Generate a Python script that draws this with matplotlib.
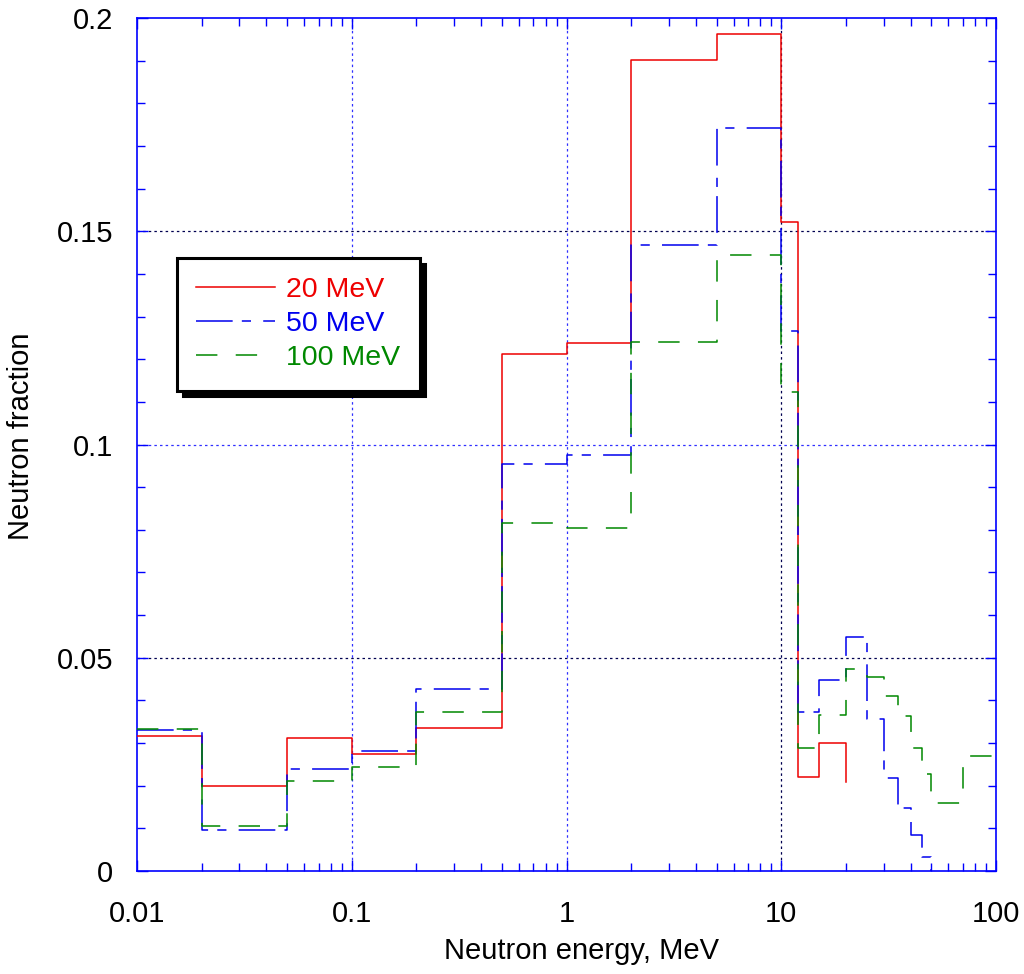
import matplotlib
matplotlib.use("Agg")
import matplotlib.pyplot as plt
from matplotlib.ticker import FixedLocator, NullFormatter

plt.rcParams['font.family'] = ['Liberation Sans', 'DejaVu Sans']

# bin lower edges (MeV) and neutron fractions, drawn as post-steps
e_20 = [0.01, 0.02, 0.05, 0.1, 0.2, 0.5, 1, 2, 5, 10, 12, 15, 20]
f_20 = [0.0316, 0.0199, 0.0313, 0.0274, 0.0335, 0.1213, 0.1237, 0.1902,
        0.1962, 0.1522, 0.0220, 0.0301, 0.0208]

e_50 = [0.01, 0.02, 0.05, 0.1, 0.2, 0.5, 1, 2, 5, 10, 12, 15, 20, 25, 30,
        35, 40, 45, 50]
f_50 = [0.0331, 0.0097, 0.0240, 0.0281, 0.0427, 0.0954, 0.0976, 0.1468,
        0.1743, 0.1267, 0.0374, 0.0449, 0.0548, 0.0357, 0.0219, 0.0148,
        0.0084, 0.0034, 0.0]

e_100 = [0.01, 0.02, 0.05, 0.1, 0.2, 0.5, 1, 2, 5, 10, 12, 15, 20, 25, 30,
         35, 40, 45, 50, 70, 100]
f_100 = [0.0334, 0.0105, 0.0212, 0.0245, 0.0374, 0.0817, 0.0804, 0.1240,
         0.1444, 0.1122, 0.0288, 0.0367, 0.0473, 0.0456, 0.0411, 0.0364,
         0.0288, 0.0227, 0.0160, 0.0270, 0.0270]

labels = ["20 MeV", "50 MeV", "100 MeV"]
colors = ["#ee0000", "#0000ee", "#008800"]

x_ticks = [0.01, 0.1, 1, 10, 100]
x_ticklabels = ["0.01", "0.1", "1", "10", "100"]
y_ticks = [0, 0.05, 0.1, 0.15, 0.2]
y_ticklabels = ["0", "0.05", "0.1", "0.15", "0.2"]

fig = plt.figure(figsize=(10.24, 9.74), dpi=100)
ax = fig.add_axes([0.1338, 0.1057, 0.8389, 0.8758])

# grid lines
for xv, c in [(0.1, "#3030ff"), (1, "#3030ff"), (10, "#000050")]:
    ax.axvline(xv, color=c, lw=0.9, ls=(0, (2, 2.5)), zorder=1)
for yv, c in [(0.05, "#000050"), (0.1, "#3030ff"), (0.15, "#000050")]:
    ax.axhline(yv, color=c, lw=0.9, ls=(0, (2, 2.5)), zorder=1)

ax.step(e_20, f_20, where='post', color=colors[0], lw=1.1, label=labels[0], zorder=3)
ax.step(e_50, f_50, where='post', color=colors[1], lw=1.1,
        ls=(0, (24, 6, 6, 8)), label=labels[1], zorder=3)
ax.step(e_100, f_100, where='post', color=colors[2], lw=1.1,
        ls=(0, (14, 12)), label=labels[2], zorder=3)

ax.set_xscale('log')
ax.set_xlim(0.01, 100)
ax.set_ylim(0, 0.2)

ax.xaxis.set_major_locator(FixedLocator(x_ticks))
ax.set_xticklabels(x_ticklabels)
ax.xaxis.set_minor_formatter(NullFormatter())
ax.set_yticks(y_ticks)
ax.set_yticklabels(y_ticklabels)
ax.yaxis.set_minor_locator(FixedLocator([i * 0.01 for i in range(21)]))

ax.tick_params(which='both', direction='in', top=True, right=True,
               color='blue', labelsize=21, labelcolor='black')
ax.tick_params(axis='x', which='both', pad=21)
ax.tick_params(axis='y', which='both', pad=17)
ax.tick_params(which='major', length=8, width=1)
ax.tick_params(which='minor', length=6, width=1)

for s in ax.spines.values():
    s.set_color('blue')
    s.set_linewidth(1.2)

ax.set_xlabel("Neutron energy, MeV", fontsize=21)
ax.set_ylabel("Neutron fraction", fontsize=21)
ax.xaxis.set_label_coords(0.517, -0.077)
ax.yaxis.set_label_coords(-0.119, 0.51)

leg = ax.legend(loc='upper left', bbox_to_anchor=(0.1729, 0.7351),
                bbox_transform=fig.transFigure, borderaxespad=0,
                fontsize=20.5, labelcolor='linecolor', fancybox=False,
                edgecolor='black', framealpha=1, labelspacing=0.28,
                handlelength=2.75, handletextpad=0.4, borderpad=0.68,
                shadow={'ox': 4, 'oy': -4, 'color': 'black', 'alpha': 1})
leg.get_frame().set_linewidth(2.2)

fig.savefig("out.png", dpi=100)
